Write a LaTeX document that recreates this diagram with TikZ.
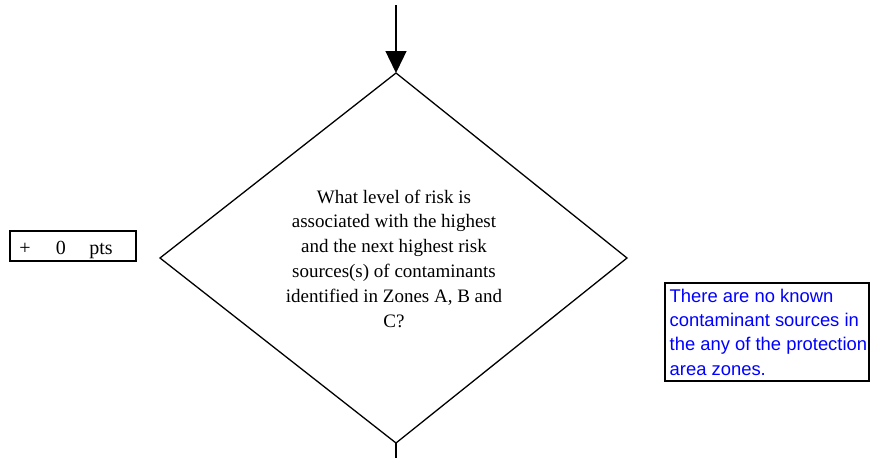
\documentclass[tikz,border=0pt]{standalone}
\usepackage{fontspec}
\setmainfont{Liberation Serif}
\newfontfamily\arialfont{Liberation Sans}
\usetikzlibrary{arrows.meta}
\definecolor{bluetext}{RGB}{0,0,255}
\tikzset{
  line/.style={draw=black, line width=1.3pt},
  qtext/.style={font=\fontsize{19}{24.9}\selectfont, align=center, inner sep=0pt},
  ptsbox/.style={draw=black, line width=1.6pt, minimum width=126pt, minimum height=30pt, inner sep=0pt},
  ptsfont/.style={font=\fontsize{20}{22}\selectfont, anchor=base, inner sep=0pt},
  notebox/.style={draw=black, line width=1.4pt, minimum width=204pt, minimum height=98pt, inner sep=0pt}
}
\begin{document}
\begin{tikzpicture}[x=1pt,y=-1pt]
\useasboundingbox (0,0) rectangle (871,458);
% diamond
\coordinate (top) at (396,73);
\coordinate (right) at (627,258);
\coordinate (bottom) at (396,443);
\coordinate (left) at (160,258);
\draw[line, line join=miter] (top) -- (right) -- (bottom) -- (left) -- cycle;
\node[qtext] (q) at (394,258.7) {What level of risk is\\associated with the highest\\and the next highest risk\\sources(s) of contaminants\\identified in Zones A, B and\\C?};
% incoming arrow
\coordinate (in) at (396,5);
\draw[line, -{Triangle[length=22pt,width=21pt]}] (in) -- (top);
% outgoing line
\coordinate (out) at (396,460);
\draw[line] (bottom) -- (out);
% points box
\node[ptsbox] (pts) at (73,246) {};
\node[ptsfont] (plus) at (25,254) {+};
\node[ptsfont] (zero) at (61,254) {0};
\node[ptsfont] (ptstext) at (101,254) {pts};
% note box
\node[notebox] (note) at (767,332) {};
\node[font=\arialfont\fontsize{18.4}{24.3}\selectfont, text=bluetext, align=left, anchor=north west, inner sep=0pt] (notetext) at (669.5,288.8) {There are no known\\contaminant sources in\\the any of the protection\\area zones.};
\end{tikzpicture}
\end{document}
